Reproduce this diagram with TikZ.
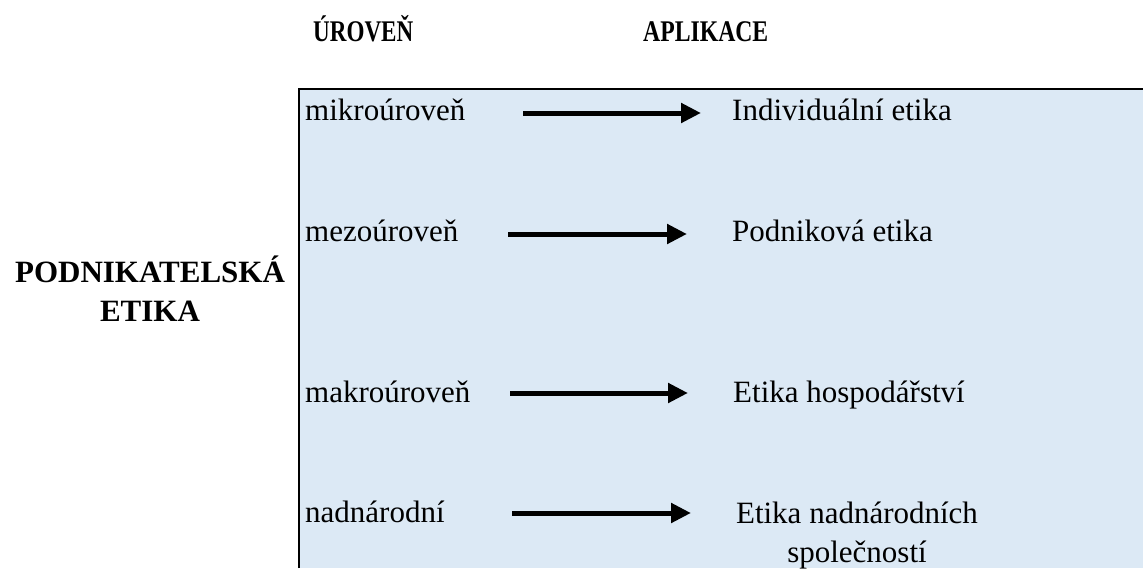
\documentclass[tikz,border=0pt]{standalone}
\usepackage{fontspec}
\setmainfont{Liberation Serif}
\usetikzlibrary{arrows.meta}
\definecolor{boxfill}{HTML}{DCE9F5}
\begin{document}
\begin{tikzpicture}[x=1pt,y=-1pt,
  lbl/.style={anchor=base west,inner sep=0pt,font=\fontsize{31}{39}\selectfont},
  app/.style={anchor=base west,inner sep=0pt,font=\fontsize{31}{39}\selectfont},
  hdr/.style={anchor=base west,inner sep=0pt,font=\fontsize{30}{36}\selectfont\bfseries},
  arr/.style={line width=5pt,-{Triangle[length=20pt,width=19pt]}}]
\useasboundingbox (0,0) rectangle (1143,568);
\fill[boxfill] (299,89) rectangle (1143,568);
\draw[line width=2pt] (299,568) -- (299,89) -- (1143,89);
% headers
\node[hdr] (hU) at (313,41) {\scalebox{0.77}[1]{ÚROVEŇ}};
\node[hdr] (hA) at (643,41) {\scalebox{0.79}[1]{APLIKACE}};
% left title
\node[anchor=base,inner sep=0pt,align=center,font=\fontsize{31}{39}\selectfont\bfseries] (pe) at (150,321) {PODNIKATELSKÁ\\ETIKA};
% levels
\node[lbl] (l1) at (305,120) {mikroúroveň};
\node[lbl] (l2) at (305,241) {mezoúroveň};
\node[lbl] (l3) at (305,402) {makroúroveň};
\node[lbl] (l4) at (305,522) {nadnárodní};
% applications
\node[app] (a1) at (732,120) {Individuální etika};
\node[app] (a2) at (732,241) {Podniková etika};
\node[app] (a3) at (733,402) {Etika hospodářství};
\node[anchor=base,inner sep=0pt,align=center,font=\fontsize{31}{39}\selectfont] (a4) at (857,562) {Etika nadnárodních\\společností};
% arrow ends
\coordinate (s1) at (523,113); \coordinate (e1) at (701,113);
\coordinate (s2) at (508,234); \coordinate (e2) at (687,234);
\coordinate (s3) at (510,393); \coordinate (e3) at (688,393);
\coordinate (s4) at (512,513); \coordinate (e4) at (691,513);
\draw[arr] (s1) -- (e1);
\draw[arr] (s2) -- (e2);
\draw[arr] (s3) -- (e3);
\draw[arr] (s4) -- (e4);
\end{tikzpicture}
\end{document}
